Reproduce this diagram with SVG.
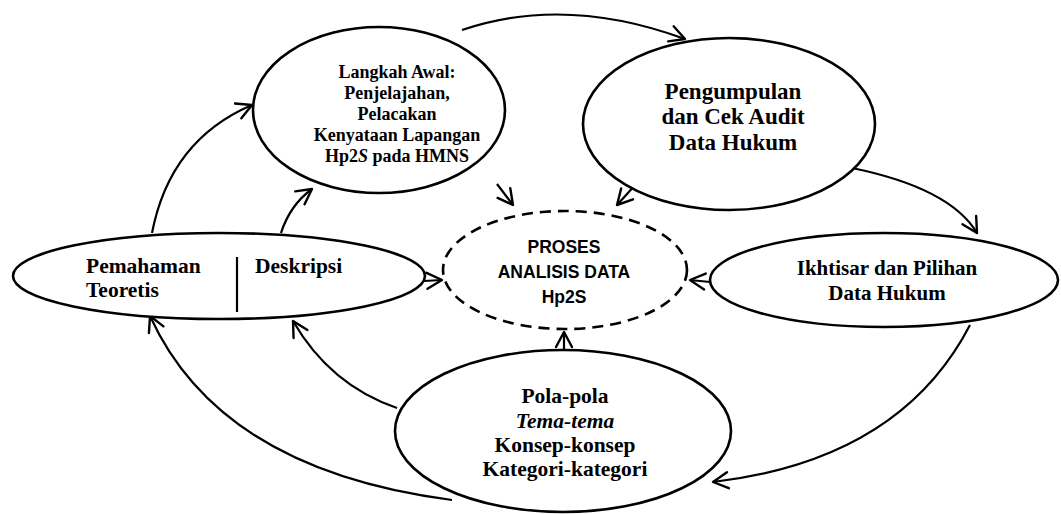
<svg xmlns="http://www.w3.org/2000/svg" width="1061" height="514" viewBox="0 0 1061 514">
<style>
.node{fill:#fff;stroke:#000;stroke-width:2.6}
.dash{fill:#fff;stroke:#000;stroke-width:2.6;stroke-dasharray:11 7}
.t{font-family:"Liberation Serif","Times New Roman",serif;font-weight:bold;fill:#000;text-anchor:middle}
.ts{font-family:"Liberation Serif","Times New Roman",serif;font-weight:bold;fill:#000;text-anchor:start;font-size:21.5px}
.s{font-family:"Liberation Sans",Arial,sans-serif;font-weight:bold;fill:#000;text-anchor:middle;font-size:17.5px}
.c{fill:none;stroke:#000;stroke-width:2.2;marker-end:url(#ah)}
</style>
<defs>
<marker id="ah" markerUnits="userSpaceOnUse" viewBox="0 0 20 20" markerWidth="20" markerHeight="20" refX="17" refY="10" orient="auto">
<path d="M2,2 L17,10 L2,18" fill="none" stroke="#000" stroke-width="2.4" stroke-linecap="round" stroke-linejoin="round"/>
</marker>
</defs>
<rect width="1061" height="514" fill="#fff"/>
<g id="connectors">
<path class="c" d="M462 30 Q565 -5 685 39"/>
<path class="c" d="M852 168 Q950 188 977 233"/>
<path class="c" d="M970 325 Q900 460 713 482"/>
<path class="c" d="M452 500 Q220 470 150 316"/>
<path class="c" d="M397 408 Q330 385 293 321"/>
<path class="c" d="M152 233 Q170 140 252 105"/>
<path class="c" d="M281 233 Q290 205 312 189"/>
<path class="c" d="M497 184 L513 205"/>
<path class="c" d="M637 183 L617 205"/>
<path class="c" d="M424 281 L442 280"/>
<path class="c" d="M710 282 L690 280"/>
<path class="c" d="M564 351 L564 332"/>
</g>
<g id="node-langkah">
<ellipse class="node" cx="379" cy="110" rx="126" ry="83"/>
<text class="t" font-size="18" x="397" y="78">Langkah Awal:</text>
<text class="t" font-size="18" x="397" y="99">Penjelajahan,</text>
<text class="t" font-size="18" x="397" y="120">Pelacakan</text>
<text class="t" font-size="18" x="397" y="141">Kenyataan Lapangan</text>
<text class="t" font-size="18" x="397" y="162">Hp2<tspan font-style="italic">S</tspan> pada HMNS</text>
</g>
<g id="node-pengumpulan">
<ellipse class="node" cx="729" cy="124" rx="146" ry="86"/>
<text class="t" font-size="23" x="733" y="99">Pengumpulan</text>
<text class="t" font-size="23" x="733" y="124">dan Cek Audit</text>
<text class="t" font-size="23" x="733" y="150">Data Hukum</text>
</g>
<g id="node-pemahaman">
<ellipse class="node" cx="219" cy="276" rx="206" ry="43"/>
<line x1="237" y1="257" x2="237" y2="312" stroke="#000" stroke-width="2.2"/>
<text class="ts" x="86" y="273">Pemahaman</text>
<text class="ts" x="86" y="297">Teoretis</text>
<text class="ts" x="255" y="273">Deskripsi</text>
</g>
<g id="node-proses">
<ellipse class="dash" cx="565" cy="270" rx="122" ry="59"/>
<text class="s" x="564" y="253">PROSES</text>
<text class="s" x="564" y="278">ANALISIS DATA</text>
<text class="s" x="564" y="303">Hp2S</text>
</g>
<g id="node-ikhtisar">
<ellipse class="node" cx="884" cy="280" rx="174" ry="47"/>
<text class="t" font-size="21" x="887" y="275">Ikhtisar dan Pilihan</text>
<text class="t" font-size="21" x="887" y="300">Data Hukum</text>
</g>
<g id="node-pola">
<ellipse class="node" cx="563" cy="431" rx="168" ry="81"/>
<text class="t" font-size="21.5" x="565" y="403">Pola-pola</text>
<text class="t" font-size="21.5" x="565" y="428" font-style="italic">Tema-tema</text>
<text class="t" font-size="21.5" x="565" y="452">Konsep-konsep</text>
<text class="t" font-size="21.5" x="565" y="476">Kategori-kategori</text>
</g>
</svg>
